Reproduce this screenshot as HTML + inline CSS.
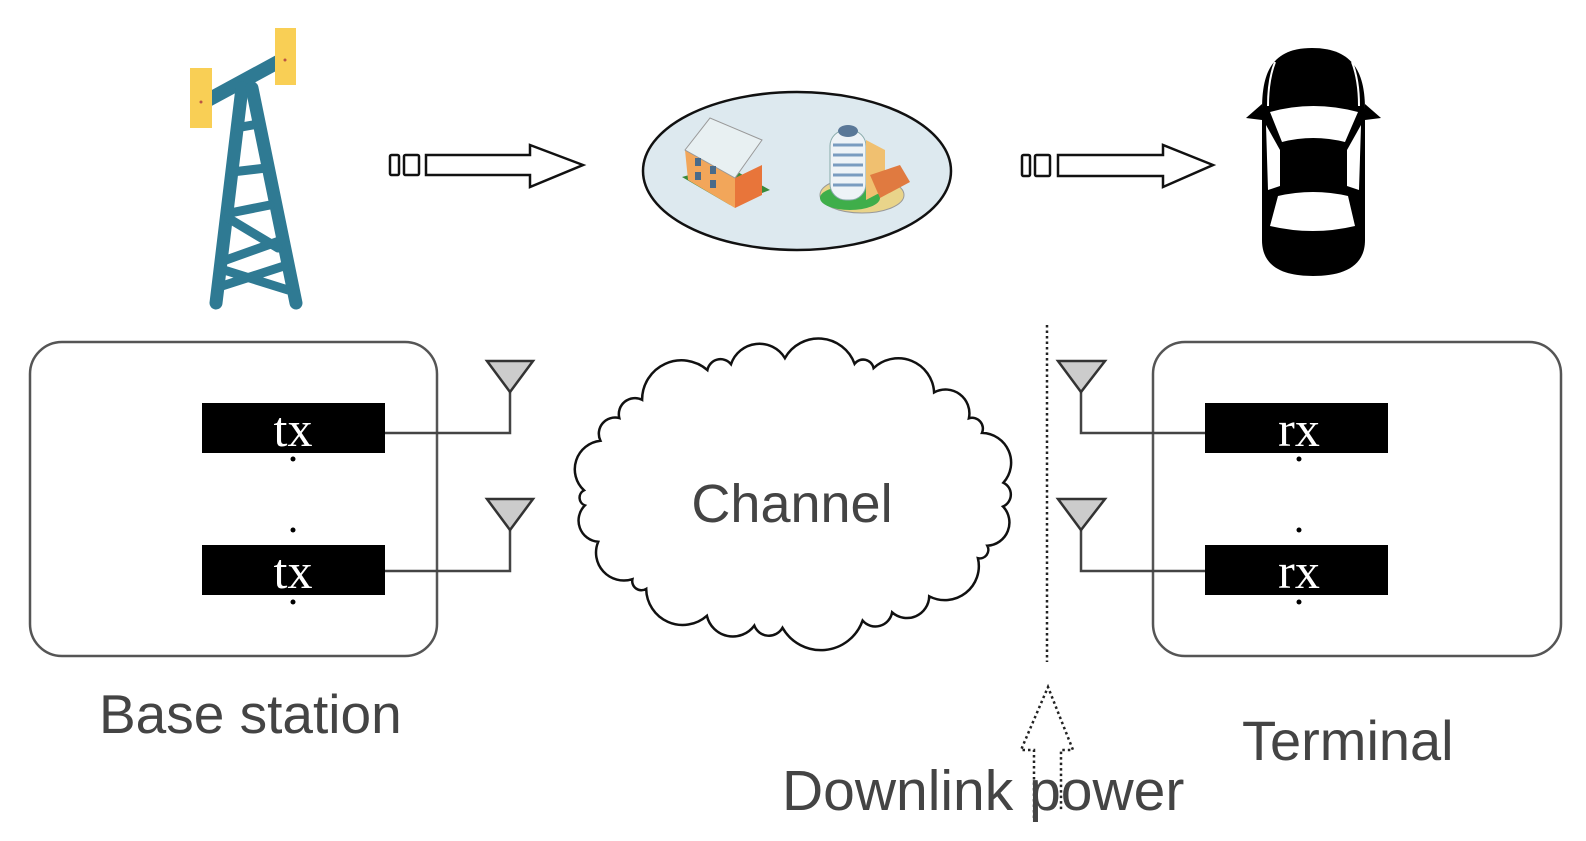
<!DOCTYPE html>
<html><head><meta charset="utf-8"><style>
html,body{margin:0;padding:0;background:#fff;}
svg{display:block;}
</style></head><body>
<svg id="s" width="1586" height="841" viewBox="0 0 1586 841" xmlns="http://www.w3.org/2000/svg">
<!-- Tower -->
<g fill="#2f7a93" stroke="#2f7a93" stroke-linecap="round" stroke-linejoin="round">
<line x1="208" y1="100" x2="278" y2="62" stroke-width="14"/>
<line x1="242" y1="88" x2="216" y2="303" stroke-width="13"/>
<line x1="252" y1="88" x2="296" y2="303" stroke-width="13"/>
<line x1="236" y1="128" x2="258" y2="124" stroke-width="9"/>
<line x1="232" y1="172" x2="266" y2="168" stroke-width="9"/>
<line x1="230" y1="213" x2="270" y2="205" stroke-width="9"/>
<line x1="228" y1="218" x2="278" y2="248" stroke-width="9"/>
<line x1="226" y1="260" x2="282" y2="240" stroke-width="9"/>
<line x1="224" y1="270" x2="288" y2="290" stroke-width="9"/>
<line x1="222" y1="286" x2="284" y2="266" stroke-width="9"/>
</g>
<rect x="190" y="68" width="22" height="60" fill="#f9cf55"/>
<rect x="275" y="28" width="21" height="57" fill="#f9cf55"/>
<circle cx="201" cy="102" r="1.5" fill="#b54"/><circle cx="285" cy="60" r="1.5" fill="#b54"/>

<!-- Arrows top -->
<g fill="#fff" stroke="#111" stroke-width="2.5">
<rect x="390" y="155" width="9" height="20" rx="1.5"/>
<rect x="404" y="155" width="15" height="20" rx="1.5"/>
<path d="M426 155 H530 V145 L583 165 L530 187 V175 H426 Z"/>
<rect x="1022" y="155" width="8" height="21" rx="1.5"/>
<rect x="1035" y="155" width="15" height="21" rx="1.5"/>
<path d="M1058 155 H1163 V145 L1213 165 L1163 187 V176 H1058 Z"/>
</g>

<!-- Ellipse with buildings -->
<ellipse cx="797" cy="171" rx="154" ry="79" fill="#dde9ef" stroke="#111" stroke-width="2.5"/>
<g>
<path d="M682 177 L730 205 L770 190 L725 165 Z" fill="#3a8a3a"/>
<path d="M685 150 L735 178 L735 208 L688 180 Z" fill="#f2a65a"/>
<path d="M735 178 L762 165 L762 195 L735 208 Z" fill="#e8753a"/>
<path d="M685 150 L710 118 L762 140 L735 178 Z" fill="#e8f0f2" stroke="#999" stroke-width="1"/>
<g fill="#4a6b8a"><rect x="695" y="158" width="6" height="8"/><rect x="710" y="166" width="6" height="8"/><rect x="695" y="172" width="6" height="8"/><rect x="710" y="180" width="6" height="8"/></g>
<ellipse cx="862" cy="195" rx="42" ry="18" fill="#e9d48a" stroke="#999"/>
<ellipse cx="850" cy="198" rx="30" ry="12" fill="#3fae4a"/>
<rect x="830" y="130" width="36" height="70" rx="16" fill="#eef3f7" stroke="#8aa" stroke-width="1"/>
<g stroke="#7a9cc0" stroke-width="3"><line x1="833" y1="145" x2="863" y2="145"/><line x1="833" y1="155" x2="863" y2="155"/><line x1="833" y1="165" x2="863" y2="165"/><line x1="833" y1="175" x2="863" y2="175"/><line x1="833" y1="185" x2="863" y2="185"/></g>
<ellipse cx="848" cy="131" rx="10" ry="6" fill="#5a7898"/>
<path d="M866 140 L885 150 L885 190 L866 200 Z" fill="#f0c070"/>
<path d="M870 175 L900 165 L910 182 L880 198 Z" fill="#e07a40"/>
</g>

<!-- Car -->
<g>
<path d="M1312 48 C1270 48 1262 75 1262 110 L1262 240 C1262 268 1285 276 1313 276 C1341 276 1365 268 1365 240 L1365 110 C1365 75 1355 48 1312 48 Z" fill="#000"/>
<path d="M1262 104 L1246 118 L1262 120 Z" fill="#000"/>
<path d="M1365 104 L1381 118 L1365 120 Z" fill="#000"/>
<path d="M1270 112 Q1313 100 1358 112 L1345 142 Q1313 134 1282 142 Z" fill="#fff"/>
<path d="M1278 196 Q1313 188 1348 196 L1355 226 Q1313 236 1270 226 Z" fill="#fff"/>
<path d="M1266 125 L1280 150 L1280 186 L1268 190 Z" fill="#fff"/>
<path d="M1361 125 L1347 150 L1347 186 L1359 190 Z" fill="#fff"/>
<path d="M1275 62 Q1268 80 1268 106" stroke="#fff" stroke-width="2" fill="none"/>
<path d="M1352 62 Q1359 80 1359 106" stroke="#fff" stroke-width="2" fill="none"/>
<rect x="1305" y="130" width="16" height="3" fill="#fff"/>
</g>

<!-- Left box -->
<rect x="30" y="342" width="407" height="314" rx="32" fill="#fff" stroke="#555" stroke-width="2.5"/>
<rect x="202" y="403" width="183" height="50" fill="#000"/>
<rect x="202" y="545" width="183" height="50" fill="#000"/>
<g font-family="Liberation Serif, serif" font-size="50" fill="#fff" text-anchor="middle">
<text x="293" y="446">tx</text><text x="293" y="588">tx</text>
</g>
<g fill="#000"><circle cx="293" cy="459" r="2.5"/><circle cx="293" cy="530" r="2.5"/><circle cx="293" cy="602" r="2.5"/></g>
<g fill="none" stroke="#444" stroke-width="2.5">
<polyline points="385,433 510,433 510,392"/>
<polyline points="385,571 510,571 510,530"/>
</g>
<g fill="#ccc" stroke="#333" stroke-width="2.5">
<polygon points="487,361 533,361 510,392"/>
<polygon points="487,499 533,499 510,530"/>
</g>

<!-- Cloud -->
<path id="cloud" d="" fill="#fff" stroke="#111" stroke-width="2.5"/>
<text x="792" y="522" font-family="Liberation Sans, sans-serif" font-size="54" fill="#444" text-anchor="middle">Channel</text>

<!-- Dotted line -->
<line x1="1047" y1="325" x2="1047" y2="662" stroke="#222" stroke-width="2.5" stroke-dasharray="2.5 3"/>

<!-- Right box -->
<rect x="1153" y="342" width="408" height="314" rx="32" fill="#fff" stroke="#555" stroke-width="2.5"/>
<rect x="1205" y="403" width="183" height="50" fill="#000"/>
<rect x="1205" y="545" width="183" height="50" fill="#000"/>
<g font-family="Liberation Serif, serif" font-size="50" fill="#fff" text-anchor="middle">
<text x="1299" y="446">rx</text><text x="1299" y="588">rx</text>
</g>
<g fill="#000"><circle cx="1299" cy="459" r="2.5"/><circle cx="1299" cy="530" r="2.5"/><circle cx="1299" cy="602" r="2.5"/></g>
<g fill="none" stroke="#444" stroke-width="2.5">
<polyline points="1205,433 1081,433 1081,392"/>
<polyline points="1205,571 1081,571 1081,530"/>
</g>
<g fill="#ccc" stroke="#333" stroke-width="2.5">
<polygon points="1058,361 1105,361 1081,392"/>
<polygon points="1058,499 1105,499 1081,530"/>
</g>

<!-- Up arrow dotted -->
<path d="M1034 818 V750 H1021 L1048 687 L1073 750 H1061 V812" fill="none" stroke="#222" stroke-width="2.5" stroke-dasharray="2.5 3"/>

<g font-family="Liberation Sans, sans-serif" fill="#444">
<text x="99" y="733" font-size="55">Base station</text>
<text x="1242" y="760" font-size="56">Terminal</text>
<text x="782" y="810" font-size="57">Downlink power</text>
</g>
</svg>
<script>
(function(){
var cx=794,cy=493,rx=210,ry=135,N=26,d="";
var pts=[];
for(var i=0;i<N;i++){var a=i/N*2*Math.PI+0.1+0.08*Math.sin(i*2.3);pts.push([cx+rx*Math.cos(a),cy+ry*Math.sin(a)]);}
d="M"+pts[0][0].toFixed(1)+" "+pts[0][1].toFixed(1);
for(var i=1;i<=N;i++){var p=pts[i%N],q=pts[i-1];var c=Math.hypot(p[0]-q[0],p[1]-q[1]);var r=c*0.55;
d+=" A"+r.toFixed(1)+" "+r.toFixed(1)+" 0 0 1 "+p[0].toFixed(1)+" "+p[1].toFixed(1);}
document.getElementById("cloud").setAttribute("d",d+" Z");
})();
</script>
</body></html>
